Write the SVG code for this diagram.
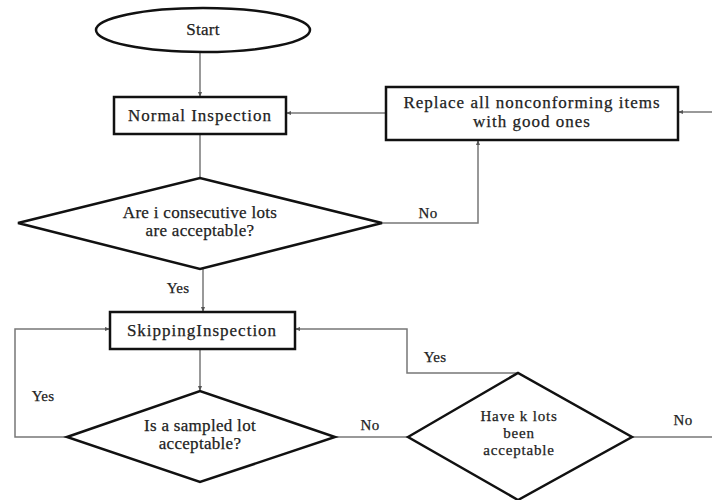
<svg xmlns="http://www.w3.org/2000/svg" width="712" height="500" viewBox="0 0 712 500">
<defs>
<marker id="ah" viewBox="0 0 10 10" refX="10" refY="5" markerWidth="5" markerHeight="5" orient="auto" markerUnits="userSpaceOnUse">
<path d="M0,1 L10,5 L0,9 z" fill="#555"/>
</marker>
<style>
.sh{fill:#fff;stroke:#111;stroke-width:2.5}
.ln{fill:none;stroke:#777;stroke-width:1.5}
.ar{marker-end:url(#ah)}
text{font-family:"Liberation Serif","Times New Roman",serif;font-size:17px;fill:#222;text-anchor:middle;font-weight:normal;letter-spacing:0.3px;stroke:#222;stroke-width:0.25}
.wd{letter-spacing:1px}
.sm{font-size:15px;letter-spacing:0.8px}
.lb{font-size:15px}
</style>
</defs>
<rect width="712" height="500" fill="#fff"/>
<g id="connectors">
<path class="ln ar" d="M200,53 V97"/>
<path class="ln ar" d="M386,113 H286"/>
<path class="ln ar" d="M712,112 H678"/>
<path class="ln" d="M200,134 V178"/>
<path class="ln ar" d="M382,223 H478 V140"/>
<path class="ln ar" d="M203,269 V312"/>
<path class="ln ar" d="M67,437 H15 V329 H110"/>
<path class="ln ar" d="M200,349 V391"/>
<path class="ln" d="M335,437 H408"/>
<path class="ln ar" d="M518,373 H407 V329 H295"/>
<path class="ln" d="M632,437 H712"/>
<text class="lb" x="428" y="218">No</text>
<text class="lb" x="178" y="293">Yes</text>
<text class="lb" x="43" y="401">Yes</text>
<text class="lb" x="370" y="430">No</text>
<text class="lb" x="435" y="362">Yes</text>
<text class="lb" x="683" y="425">No</text>
</g>
<g id="start">
<ellipse class="sh" cx="203" cy="30" rx="107" ry="22"/>
<text x="203" y="35">Start</text>
</g>
<g id="normal">
<rect class="sh" x="114" y="97" width="172" height="37"/>
<text class="wd" x="200" y="121">Normal Inspection</text>
</g>
<g id="replace">
<rect class="sh" x="386" y="87" width="292" height="53"/>
<text class="wd" x="532" y="108">Replace all nonconforming items</text>
<text class="wd" x="532" y="127">with good ones</text>
</g>
<g id="dec1">
<polygon class="sh" points="18,223 200,178 382,223 200,269"/>
<text x="200" y="218">Are i consecutive lots</text>
<text x="200" y="236">are acceptable?</text>
</g>
<g id="skipping">
<rect class="sh" x="110" y="312" width="185" height="37"/>
<text class="wd" x="202" y="336">SkippingInspection</text>
</g>
<g id="dec2">
<polygon class="sh" points="67,437 200,391 335,437 200,482"/>
<text x="200" y="431">Is a sampled lot</text>
<text x="200" y="449">acceptable?</text>
</g>
<g id="dec3">
<polygon class="sh" points="408,437 518,373 632,437 518,500"/>
<text class="sm" x="519" y="421">Have k lots</text>
<text class="sm" x="519" y="438">been</text>
<text class="sm" x="519" y="455">acceptable</text>
</g>
</svg>
